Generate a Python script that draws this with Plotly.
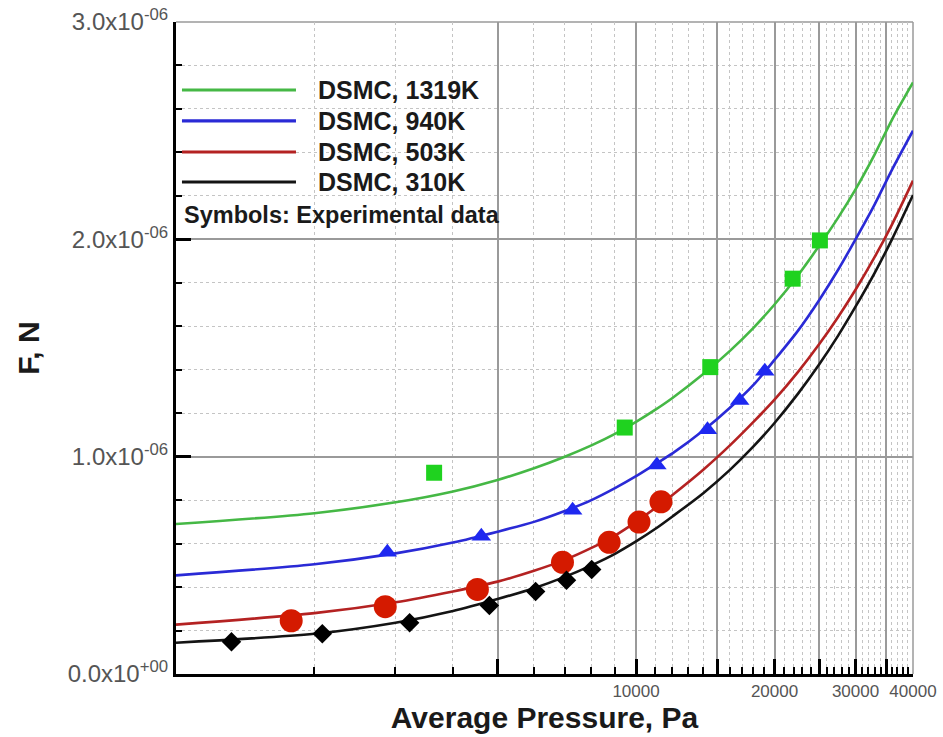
import plotly.graph_objects as go

SCALE = 1e-6  # values below are in units of 1e-6 N

# DSMC curves
p_grid = [1000, 2000, 3000, 4000, 5000, 6000, 7000, 8000, 9000, 10000, 11000, 12000,
          14000, 16000, 18000, 20000, 22500, 25000, 27500, 30000, 33000, 36000, 40000]
g_y = [0.690, 0.740, 0.790, 0.840, 0.893, 0.947, 1.000, 1.052, 1.105, 1.160, 1.215, 1.270,
       1.380, 1.487, 1.593, 1.700, 1.835, 1.970, 2.100, 2.230, 2.390, 2.550, 2.722]
b_y = [0.454, 0.505, 0.555, 0.605, 0.655, 0.700, 0.750, 0.800, 0.855, 0.910, 0.965, 1.015,
       1.120, 1.225, 1.330, 1.445, 1.580, 1.720, 1.860, 2.000, 2.160, 2.320, 2.500]
r_y = [0.227, 0.280, 0.330, 0.380, 0.425, 0.475, 0.525, 0.580, 0.637, 0.700, 0.763, 0.824,
       0.940, 1.052, 1.160, 1.262, 1.390, 1.517, 1.643, 1.768, 1.918, 2.068, 2.270]
k_y = [0.144, 0.185, 0.236, 0.290, 0.345, 0.395, 0.447, 0.500, 0.553, 0.610, 0.667, 0.725,
       0.832, 0.939, 1.047, 1.155, 1.290, 1.424, 1.557, 1.690, 1.845, 2.000, 2.204]

# Experimental data
sq_x = [3640, 9450, 14500, 21900, 25100]
sq_y = [0.926, 1.134, 1.412, 1.819, 1.995]

tri_x = [2880, 4610, 7280, 11100, 14300, 16800, 19050]
tri_y = [0.560, 0.634, 0.754, 0.962, 1.124, 1.259, 1.393]

cir_x = [1780, 2850, 4520, 6920, 8740, 10150, 11330]
cir_y = [0.245, 0.310, 0.389, 0.514, 0.606, 0.699, 0.792]

dia_x = [1320, 2080, 3220, 4800, 6050, 7060, 8010]
dia_y = [0.148, 0.185, 0.236, 0.315, 0.380, 0.431, 0.481]

legend_names = ["DSMC, 1319K", "DSMC, 940K", "DSMC, 503K", "DSMC, 310K"]
line_colors = ["#45b845", "#2a2ad6", "#b42222", "#141414"]

x_major = [5000, 10000, 15000, 20000, 25000, 30000, 35000, 40000]
x_major_text = ["", "10000", "", "20000", "", "30000", "", "40000"]
x_minor = [v for v in range(2000, 40000, 1000) if v % 5000 != 0]

y_major = [0, 1, 2, 3]
y_major_text = ["0.0x10<sup>+00</sup>", "1.0x10<sup>-06</sup>",
                "2.0x10<sup>-06</sup>", "3.0x10<sup>-06</sup>"]

fig = go.Figure()

for ys, name, col in zip([g_y, b_y, r_y, k_y], legend_names, line_colors):
    fig.add_trace(go.Scatter(
        x=p_grid, y=[v * SCALE for v in ys], mode="lines", name=name,
        line=dict(color=col, width=2.6, shape="spline", smoothing=0.8),
        showlegend=False))

markers = [
    (sq_x, sq_y, "square", "#1fd21f", 16),
    (tri_x, tri_y, "triangle-up", "#1e28f0", 17),
    (cir_x, cir_y, "circle", "#d41a00", 23),
    (dia_x, dia_y, "diamond", "#000000", 15),
]
for xs, ys, sym, col, sz in markers:
    fig.add_trace(go.Scatter(
        x=xs, y=[v * SCALE for v in ys], mode="markers",
        marker=dict(symbol=sym, color=col, size=sz, line=dict(width=0)),
        showlegend=False))

# Legend drawn as in the original (long line samples)
leg_y = [0.8957, 0.8482, 0.8006, 0.7546]
for yy, name, col in zip(leg_y, legend_names, line_colors):
    fig.add_shape(type="line", xref="paper", yref="paper",
                  x0=0.0081, x1=0.1628, y0=yy, y1=yy,
                  line=dict(color=col, width=3.2))
    fig.add_annotation(xref="paper", yref="paper", x=0.1895, y=yy,
                       text=name, showarrow=False, xanchor="left",
                       yanchor="middle",
                       font=dict(family="Liberation Sans, Arial", size=25,
                                 color="#1a1a1a", weight="bold"))
fig.add_annotation(xref="paper", yref="paper", x=0.0085, y=0.704,
                   text="Symbols: Experimental data", showarrow=False,
                   xanchor="left", yanchor="middle",
                   font=dict(family="Liberation Sans, Arial", size=23.5,
                             color="#1a1a1a", weight="bold"))

# gray frame on top/right
fig.add_shape(type="line", xref="paper", yref="paper", x0=0, x1=1, y0=1, y1=1,
              line=dict(color="#9a9a9a", width=1.5), layer="below")
fig.add_shape(type="line", xref="paper", yref="paper", x0=1, x1=1, y0=0, y1=1,
              line=dict(color="#9a9a9a", width=1.5), layer="below")

fig.update_layout(
    width=943, height=737,
    margin=dict(l=176, r=30, t=22, b=63),
    plot_bgcolor="white", paper_bgcolor="white",
    font=dict(family="Liberation Sans, Arial", color="#555555"),
    xaxis=dict(
        type="log", range=[3, 4.60206], automargin=False,
        tickmode="array", tickvals=x_major, ticktext=x_major_text,
        tickfont=dict(size=17, color="#555555"),
        ticks="inside", ticklen=15, tickwidth=2.5, tickcolor="black",
        showline=True, linecolor="black", linewidth=3,
        showgrid=True, gridcolor="#9a9a9a", gridwidth=1.5,
        zeroline=False,
        minor=dict(tickmode="array", tickvals=x_minor, ticks="inside",
                   ticklen=7, tickwidth=1.5, tickcolor="black",
                   showgrid=True, gridcolor="#c4c4c4", gridwidth=1,
                   griddash="dot"),
        title=dict(text="<b>Average Pressure, Pa</b>", standoff=4,
                   font=dict(size=30, color="#1a1a1a")),
    ),
    yaxis=dict(
        range=[0, 3e-6], automargin=False,
        tickmode="array", tickvals=[v * SCALE for v in y_major],
        ticktext=y_major_text,
        tickfont=dict(size=24, color="#555555"),
        ticks="inside", ticklen=15, tickwidth=2.5, tickcolor="black",
        showline=True, linecolor="black", linewidth=3,
        showgrid=True, gridcolor="#9a9a9a", gridwidth=1.5,
        zeroline=False,
        minor=dict(tick0=0, dtick=0.2e-6, ticks="inside",
                   ticklen=6, tickwidth=1.5, tickcolor="black",
                   showgrid=True, gridcolor="#c4c4c4", gridwidth=1,
                   griddash="dot"),
        title=dict(text="<b>F, N</b>", standoff=20,
                   font=dict(size=30, color="#1a1a1a")),
    ),
)

fig.write_html(
    "out.html",
    config={"displayModeBar": False},
    post_script="document.body.style.margin='0';document.body.style.overflow='hidden';",
)
